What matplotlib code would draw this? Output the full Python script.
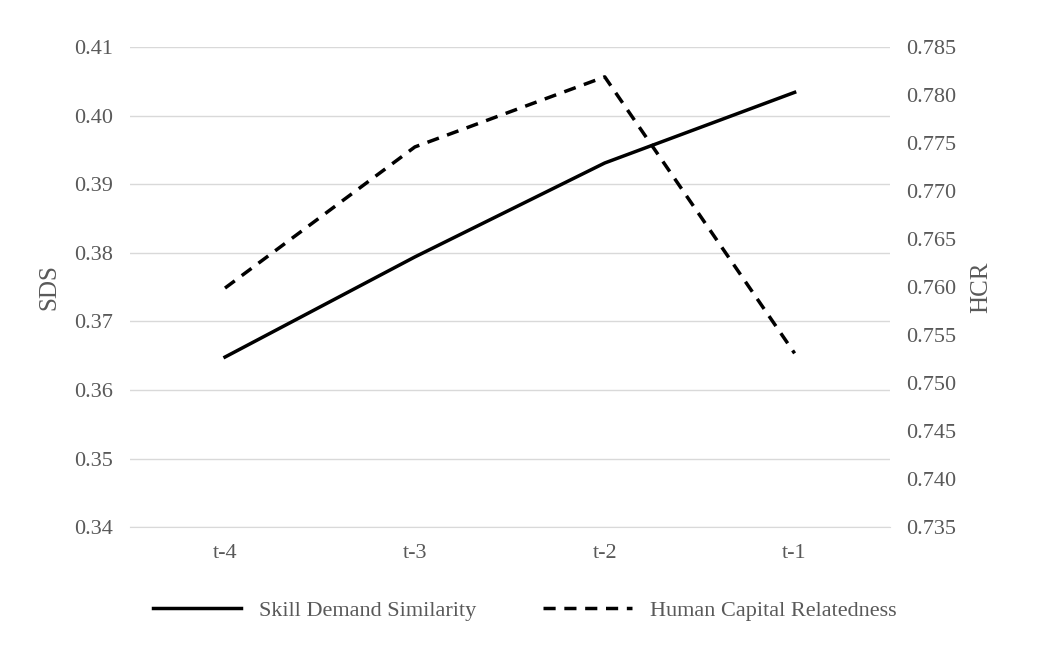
import matplotlib
matplotlib.use("Agg")
import matplotlib.pyplot as plt

periods = ["t-4", "t-3", "t-2", "t-1"]
sds = [0.3648, 0.3794, 0.3931, 0.4034]
hcr = [0.7599, 0.7746, 0.7819, 0.7531]

plt.rcParams["font.family"] = ["Liberation Serif", "DejaVu Serif"]
grey = "#595959"

fig, ax = plt.subplots(figsize=(10.49, 6.54), dpi=100)
fig.subplots_adjust(left=0.124, right=0.848, top=0.928, bottom=0.194)
ax2 = ax.twinx()

x = range(len(periods))
l1, = ax.plot(x, sds, color="black", lw=2.5, label="Skill Demand Similarity")
l2, = ax2.plot(x, hcr, color="black", lw=2.5, ls=(0, (3.5, 2.5)), label="Human Capital Relatedness")

ax.set_xlim(-0.5, 3.5)
ax.set_ylim(0.34, 0.41)
ax.set_yticks([0.34 + 0.01 * i for i in range(8)])
ax.set_yticklabels([f"{0.34 + 0.01 * i:.2f}" for i in range(8)])
ax2.set_ylim(0.735, 0.785)
ax2.set_yticks([0.735 + 0.005 * i for i in range(11)])
ax2.set_yticklabels([f"{0.735 + 0.005 * i:.3f}" for i in range(11)])
ax.set_xticks(list(x))
ax.set_xticklabels(periods)

ax.grid(axis="y", color="#d9d9d9", lw=1)
ax.set_axisbelow(True)
for a in (ax, ax2):
    for s in a.spines.values():
        s.set_visible(False)
    a.tick_params(length=0, labelsize=16, colors=grey, pad=12)
ax.spines["bottom"].set_visible(True)
ax.spines["bottom"].set_color("#d9d9d9")

ax.set_ylabel("SDS", fontsize=18, color=grey, labelpad=10)
ax2.set_ylabel("HCR", fontsize=18, color=grey, labelpad=10)

fig.legend(handles=[l1, l2], loc="lower center", ncol=2, frameon=False,
           fontsize=16, labelcolor=grey, bbox_to_anchor=(0.5, 0.02),
           handlelength=4, columnspacing=3)

fig.savefig("out.png", dpi=100)
